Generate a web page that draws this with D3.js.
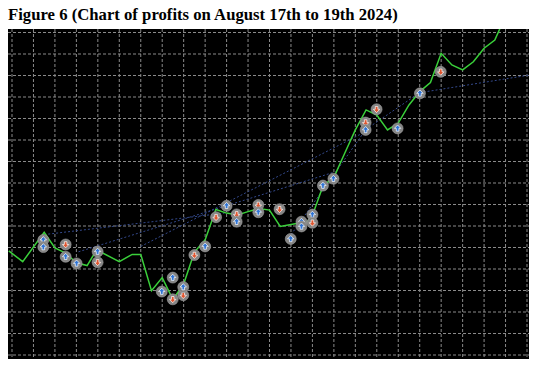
<!DOCTYPE html>
<html>
<head>
<meta charset="utf-8">
<script src="https://cdn.jsdelivr.net/npm/d3@7"></script>
<style>
  body { margin: 0; background: #fff; }
  svg { display: block; }
</style>
</head>
<body>
<svg id="chart" width="537" height="366"></svg>
<script>
const title = 'Figure 6 (Chart of profits on August 17th to 19th 2024)';

// balance curve: x = time slot (grid units), y = profit
const curveX = [-0.15, 0.5, 1.5, 2.0, 2.5, 3.0, 3.5, 3.8, 4.0, 5.0, 5.6, 6.0, 6.5, 7.0, 7.5, 8.0,
  8.5, 9.0, 9.5, 10.0, 10.5, 11.0, 11.5, 12.0, 12.5, 13.0, 13.4, 13.75, 14.0, 14.5, 15.0,
  15.5, 16.0, 16.5, 17.0, 17.5, 18.0, 18.5, 19.0, 19.5, 20.0, 20.5, 21.0, 21.5, 22.0, 22.5, 22.75];
const curveY = [48.4, 43.4, 57.1, 49.8, 47.4, 42.9, 41.6, 46.5, 48.6, 43.4, 46.8, 46.8, 29.9, 36.0, 25.8, 33.0,
  47.9, 53.5, 67.7, 66.0, 65.1, 66.7, 68.1, 67.4, 59.8, 60.7, 61.4, 61.9, 64.9, 78.8, 82.6,
  93.7, 104.7, 114.0, 111.6, 104.7, 107.9, 116.3, 122.5, 126.7, 140.3, 134.9, 132.6, 136.4, 142.7, 146.5, 152.1];

// deal markers
const dealX = [1.46, 1.46, 2.5, 2.5, 3.01, 3.99, 3.99, 6.98, 7.49, 7.49, 7.98, 7.98, 8.5, 9.0, 9.51, 10.0,
  10.47, 10.47, 11.48, 11.48, 12.47, 12.99, 13.49, 13.49, 14.0, 14.0, 14.49, 14.98, 16.48, 16.48, 16.99,
  17.97, 19.01, 19.98];
const dealY = [53.5, 50.2, 51.4, 45.7, 42.6, 48.1, 43.1, 29.5, 36.0, 25.9, 27.8, 31.6, 46.5, 50.5, 64.1, 69.4,
  65.4, 62.0, 69.8, 66.4, 67.8, 54.0, 62.0, 59.8, 65.3, 61.5, 78.8, 82.0, 108.1, 104.7, 114.3,
  105.4, 121.7, 131.7];
const dealType = ['buy', 'buy', 'sell', 'buy', 'buy', 'buy', 'sell', 'buy', 'buy', 'sell', 'sell', 'buy', 'sell', 'buy', 'sell', 'buy',
  'sell', 'buy', 'sell', 'buy', 'sell', 'buy', 'buy', 'buy', 'buy', 'sell', 'buy', 'buy', 'sell', 'buy', 'sell',
  'buy', 'buy', 'sell'];

// dotted trade lines [x1, y1, x2, y2]
const tradeLines = [
  [1.5, 56.0, 9.9, 66.0],
  [3.1, 48.0, 15.0, 85.0],
  [6.0, 50.5, 16.5, 104.0],
  [12.9, 54.5, 16.5, 105.0],
  [16.5, 105.0, 19.0, 122.0],
  [19.0, 122.0, 24.1, 130.2]
];

const svg = d3.select('#chart');
const plot = { x0: 8, x1: 529, y0: 29, y1: 359 };

let x = d3.scaleLinear().domain([0, 24]).range([12, 527]);
let y = d3.scaleLinear().domain([0, 150]).range([355, 32.5]);

svg.append('text')
  .attr('x', 8)
  .attr('y', 20)
  .attr('font-family', '"Liberation Serif", "Times New Roman", serif')
  .attr('font-weight', 'bold')
  .attr('font-size', 16.7)
  .attr('fill', '#000')
  .text(title);

svg.append('defs').append('clipPath')
  .attr('id', 'clip')
  .append('rect')
  .attr('x', plot.x0).attr('y', plot.y0)
  .attr('width', plot.x1 - plot.x0).attr('height', plot.y1 - plot.y0);

svg.append('rect')
  .attr('x', plot.x0).attr('y', plot.y0)
  .attr('width', plot.x1 - plot.x0).attr('height', plot.y1 - plot.y0)
  .attr('fill', '#000');

let g = svg.append('g').attr('clip-path', 'url(#clip)');

// grid
g.selectAll('line.vgrid')
  .data(d3.range(0, 25))
  .join('line')
  .classed('vgrid', true)
  .attr('x1', d => x(d)).attr('x2', d => x(d))
  .attr('y1', plot.y0).attr('y2', plot.y1)
  .attr('stroke', '#8a8a8a')
  .attr('stroke-width', 1)
  .attr('stroke-dasharray', '3,2');

g.selectAll('line.hgrid')
  .data(d3.range(0, 151, 10))
  .join('line')
  .classed('hgrid', true)
  .attr('x1', plot.x0).attr('x2', plot.x1)
  .attr('y1', d => y(d)).attr('y2', d => y(d))
  .attr('stroke', '#8a8a8a')
  .attr('stroke-width', 1)
  .attr('stroke-dasharray', '3,2');

// trade lines
g.selectAll('line.trade')
  .data(tradeLines)
  .join('line')
  .classed('trade', true)
  .attr('x1', d => x(d[0])).attr('y1', d => y(d[1]))
  .attr('x2', d => x(d[2])).attr('y2', d => y(d[3]))
  .attr('stroke', '#33488a')
  .attr('stroke-width', 1)
  .attr('stroke-dasharray', '2,2');

// balance line
let curve = curveX.map((d, i) => [d, curveY[i]]);
g.append('path')
  .datum(curve)
  .attr('fill', 'none')
  .attr('stroke', '#3ad03a')
  .attr('stroke-width', 1.5)
  .attr('d', d3.line().x(d => x(d[0])).y(d => y(d[1])));

// deal markers
let deals = dealX.map((d, i) => ({ x: d, y: dealY[i], type: dealType[i] }));
let dealG = g.selectAll('g.deal')
  .data(deals)
  .join('g')
  .classed('deal', true)
  .attr('transform', d => `translate(${x(d.x)}, ${y(d.y)})`);

dealG.append('circle')
  .attr('r', 5.5)
  .attr('fill', '#858585')
  .attr('stroke', '#a0a0a0')
  .attr('stroke-width', 0.6);

dealG.append('path')
  .attr('d', d => d.type === 'buy'
    ? 'M0,-3.4 L3.2,0 L1.3,0 L1.3,2.8 L-1.3,2.8 L-1.3,0 L-3.2,0 Z'
    : 'M0,3.4 L3.2,0 L1.3,0 L1.3,-2.8 L-1.3,-2.8 L-1.3,0 L-3.2,0 Z')
  .attr('fill', d => d.type === 'buy' ? '#2f74d6' : '#e0552f')
  .attr('stroke', '#fff')
  .attr('stroke-width', 0.7);
</script>
</body>
</html>
